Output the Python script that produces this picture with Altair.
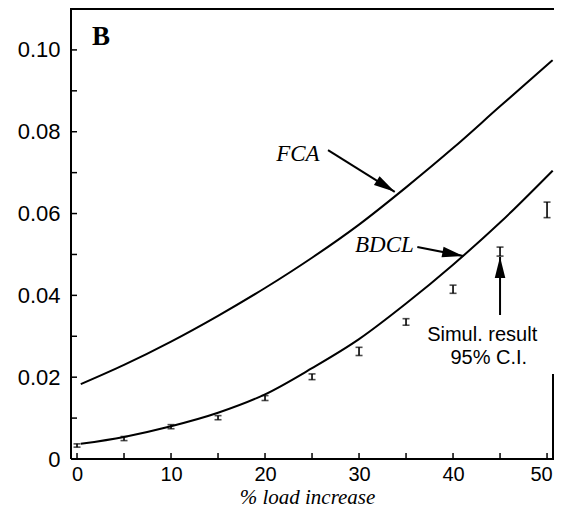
import altair as alt
import pandas as pd

# ---- data ----
curve_x = [0.4, 5, 10, 15, 20, 25, 30, 35, 40, 45, 50.6]
fca = [0.0183, 0.0230, 0.0287, 0.0350, 0.0418, 0.0492, 0.0573, 0.0664, 0.0760, 0.0862, 0.0975]
bdcl = [0.0037, 0.0054, 0.0080, 0.0113, 0.0158, 0.0222, 0.0293, 0.0380, 0.0475, 0.0578, 0.0705]

sim_x = [0, 5, 10, 15, 20, 25, 30, 35, 40, 45, 50]
sim_mid = [0.0033, 0.0050, 0.0079, 0.0101, 0.0149, 0.0201, 0.0263, 0.0335, 0.0415, 0.0507, 0.0609]
sim_half = [0.0004, 0.0005, 0.0005, 0.0005, 0.0006, 0.0007, 0.0010, 0.0008, 0.0010, 0.0011, 0.0019]

x_tick_vals = [0, 5, 10, 15, 20, 25, 30, 35, 40, 45, 50]
y_tick_vals = [0, 0.01, 0.02, 0.03, 0.04, 0.05, 0.06, 0.07, 0.08, 0.09, 0.10]
x_label_vals = [0, 10, 20, 30, 40, 50]
y_label_vals = [0, 0.02, 0.04, 0.06, 0.08, 0.10]

# annotations (data coordinates)
arrow_x0 = [26.7, 36.2, 45.0]
arrow_y0 = [0.0755, 0.0518, 0.0352]
arrow_x1 = [33.8, 41.1, 45.0]
arrow_y1 = [0.0653, 0.0496, 0.0494]
arrow_angle = [122, 101, 0]

W, H = 483, 450
xs = alt.Scale(domain=[-0.64, 50.74], nice=False, zero=False)
ys = alt.Scale(domain=[0, 0.11], nice=False, zero=True)

curves = pd.DataFrame({
    "x": curve_x * 2,
    "y": fca + bdcl,
    "s": ["FCA"] * len(curve_x) + ["BDCL"] * len(curve_x),
})
sims = pd.DataFrame({
    "x": sim_x,
    "lo": [m - h for m, h in zip(sim_mid, sim_half)],
    "hi": [m + h for m, h in zip(sim_mid, sim_half)],
})
arrows = pd.DataFrame({"x0": arrow_x0, "y0": arrow_y0, "x1": arrow_x1, "y1": arrow_y1, "a": arrow_angle})

x_axis = alt.Axis(
    values=x_label_vals, ticks=False, tickSize=0, domain=False, grid=False,
    labelFont="Liberation Sans", labelFontSize=20, labelColor="black", labelPadding=5.5,
    labelOffset={"condition": {"test": "datum.value == 50", "value": -6}, "value": 0},
    labelBound=False,
    title="% load increase", titleFont="Liberation Serif", titleFontStyle="italic",
    titleFontWeight="normal", titleFontSize=21, titleColor="black",
    titleX=236, titleY=44.5, titleAlign="center", titleBaseline="alphabetic",
)
y_axis = alt.Axis(
    values=y_label_vals, ticks=False, tickSize=0, domain=False, grid=False,
    labelFont="Liberation Sans", labelFontSize=22, labelColor="black", labelPadding=11,
    labelExpr="datum.value == 0 ? '0' : format(datum.value, '.2f')", title=None,
)


def X(field):
    return alt.X(field, type="quantitative", scale=xs, axis=x_axis)


def Y(field):
    return alt.Y(field, type="quantitative", scale=ys, axis=y_axis)


lines = alt.Chart(curves).mark_line(color="black", strokeWidth=2, interpolate="monotone").encode(
    x=X("x"), y=Y("y"), detail="s:N",
)

bars = alt.Chart(sims).mark_rule(color="black", strokeWidth=1.6).encode(
    x=X("x"), y=Y("lo"), y2="hi:Q",
)
cap_lo = alt.Chart(sims).mark_tick(color="black", orient="horizontal", size=7, thickness=1.6).encode(
    x=X("x"), y=Y("lo"))
cap_hi = alt.Chart(sims).mark_tick(color="black", orient="horizontal", size=7, thickness=1.6).encode(
    x=X("x"), y=Y("hi"))

xt = alt.Chart(pd.DataFrame({"t": x_tick_vals})).mark_rule(color="black", strokeWidth=1.5).encode(
    x=X("t"), y=alt.value(H), y2=alt.value(H - 6))
yt = alt.Chart(pd.DataFrame({"t": y_tick_vals})).mark_rule(color="black", strokeWidth=1.5).encode(
    y=Y("t"), x=alt.value(0), x2=alt.value(6))

# frame: left, bottom, top, and the short visible piece of the right edge
frame_df = pd.DataFrame({"k": [0]})
left_edge = alt.Chart(frame_df).mark_rule(color="black", strokeWidth=2).encode(
    x=alt.value(0), y=alt.value(-1), y2=alt.value(H))
bottom_edge = alt.Chart(frame_df).mark_rule(color="black", strokeWidth=2).encode(
    x=alt.value(0), x2=alt.value(W), y=alt.value(H))
top_edge = alt.Chart(frame_df).mark_rule(color="black", strokeWidth=2).encode(
    x=alt.value(0), x2=alt.value(W), y=alt.value(0))
right_edge = alt.Chart(frame_df).mark_rule(color="black", strokeWidth=2).encode(
    x=alt.value(W - 1), y=alt.value(H - 85), y2=alt.value(H))

shafts = alt.Chart(arrows).mark_rule(color="black", strokeWidth=2).encode(
    x=X("x0"), y=Y("y0"), x2="x1:Q", y2="y1:Q")
heads = alt.Chart(arrows).mark_point(
    shape="M0,0 L-0.25,1 L0.25,1 Z", filled=True, color="black", opacity=1, size=1800, strokeWidth=0
).encode(
    x=X("x1"), y=Y("y1"), angle=alt.Angle("a:Q", scale=None))


def label(txt, x, y, font, size, style="normal", weight="normal", align="center"):
    return alt.Chart(pd.DataFrame({"x": [x], "y": [y], "t": [txt]})).mark_text(
        font=font, fontSize=size, fontStyle=style, fontWeight=weight, color="black",
        align=align, baseline="middle").encode(x=X("x"), y=Y("y"), text="t:N")


texts = [
    label("B", 2.55, 0.1032, "Liberation Serif", 27, weight="bold"),
    label("FCA", 23.5, 0.0745, "Liberation Serif", 23, style="italic"),
    label("BDCL", 32.7, 0.0524, "Liberation Serif", 23, style="italic"),
    label("Simul. result", 43.1, 0.0303, "Liberation Sans", 20),
    label("95% C.I.", 43.8, 0.0248, "Liberation Sans", 20),
]

chart = alt.layer(
    lines, bars, cap_lo, cap_hi, xt, yt, left_edge, bottom_edge, top_edge, right_edge,
    shafts, heads, *texts
).properties(
    width=W, height=H,
    autosize=alt.AutoSizeParams(type="none"),
    padding={"left": 63, "top": 1, "right": 0, "bottom": 49},
    background="white",
).configure_view(stroke=None)

chart.save("out.html", embed_options={"renderer": "svg", "actions": False})
